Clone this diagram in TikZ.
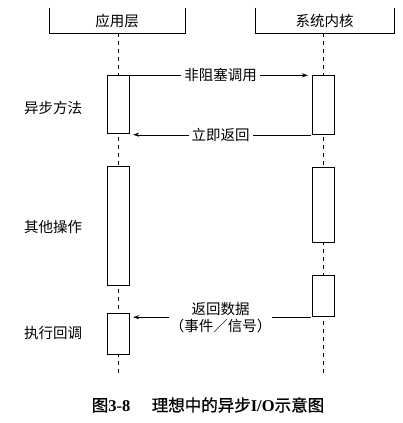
\documentclass[tikz,border=0pt]{standalone}
\usepackage{fontspec}
\setmainfont{Liberation Serif}
\newfontfamily\cjk{Noto Sans CJK SC}
\newfontfamily\cjkcap[FakeBold=0.8]{Noto Sans CJK SC}
\usetikzlibrary{positioning,arrows.meta}

\begin{document}
\begin{tikzpicture}[
  x=1pt, y=-1pt, >={Stealth[length=6pt,width=4pt]},
  font=\cjk\fontsize{14.5}{17}\selectfont,
  head/.style={minimum height=25pt, inner sep=0pt},
  act/.style={draw, fill=white, minimum width=22pt, inner sep=0pt},
  life/.style={dash pattern=on 4pt off 4pt},
  msg/.style={->, shorten >=4pt, shorten <=1pt},
  lbl/.style={fill=white, inner sep=3pt, align=center}
]
\useasboundingbox (0,0) rectangle (402,423);

%% Headers (open at the top)
\node[head, minimum width=136pt] (app) at (117,20.5) {应用层};
\node[head, minimum width=139pt] (kern) at (324.5,20.5) {系统内核};
\foreach \h in {app, kern}{
  \draw (\h.north west) -- (\h.south west) -- (\h.south east) -- (\h.north east);
}

%% Lifelines
\draw[life] (118,33) -- (118,375);
\draw[life] (323,33) -- (323,375);

%% Activation boxes
\node[act, minimum height=58pt] (a1) at (118,104.5) {};
\node[act, minimum height=119pt] (a2) at (118,225.5) {};
\node[act, minimum height=41pt] (a3) at (118,333.5) {};
\node[act, minimum height=59pt] (k1) at (323,105) {};
\node[act, minimum height=75pt] (k2) at (323,204.5) {};
\node[act, minimum height=41pt] (k3) at (323,295.5) {};

%% Messages
\draw[msg] (a1.north east) -- (k1.north west |- a1.north east)
  node[lbl, midway] {非阻塞调用};
\draw[msg] (k1.south west) -- (a1.south east |- k1.south west)
  node[lbl, midway] {立即返回};
\coordinate (r3) at ([yshift=-1pt]k3.south west);
\draw[msg] (r3) -- (a3.east |- r3)
  node[lbl, midway, inner sep=1pt] {返回数据\\（事件／信号）};

%% Phases on the left
\node (p1) at (53,108) {异步方法};
\node (p2) at (53,227) {其他操作};
\node (p3) at (53,333) {执行回调};

%% Caption
\node (cap) at (208,405) {\fontsize{16.5}{19}\selectfont
  {\cjkcap 图}{\rmfamily\bfseries 3-8}\hspace{1.3em}{\cjkcap 理想中的异步}{\rmfamily\bfseries I/O}{\cjkcap 示意图}};
\end{tikzpicture}
\end{document}
